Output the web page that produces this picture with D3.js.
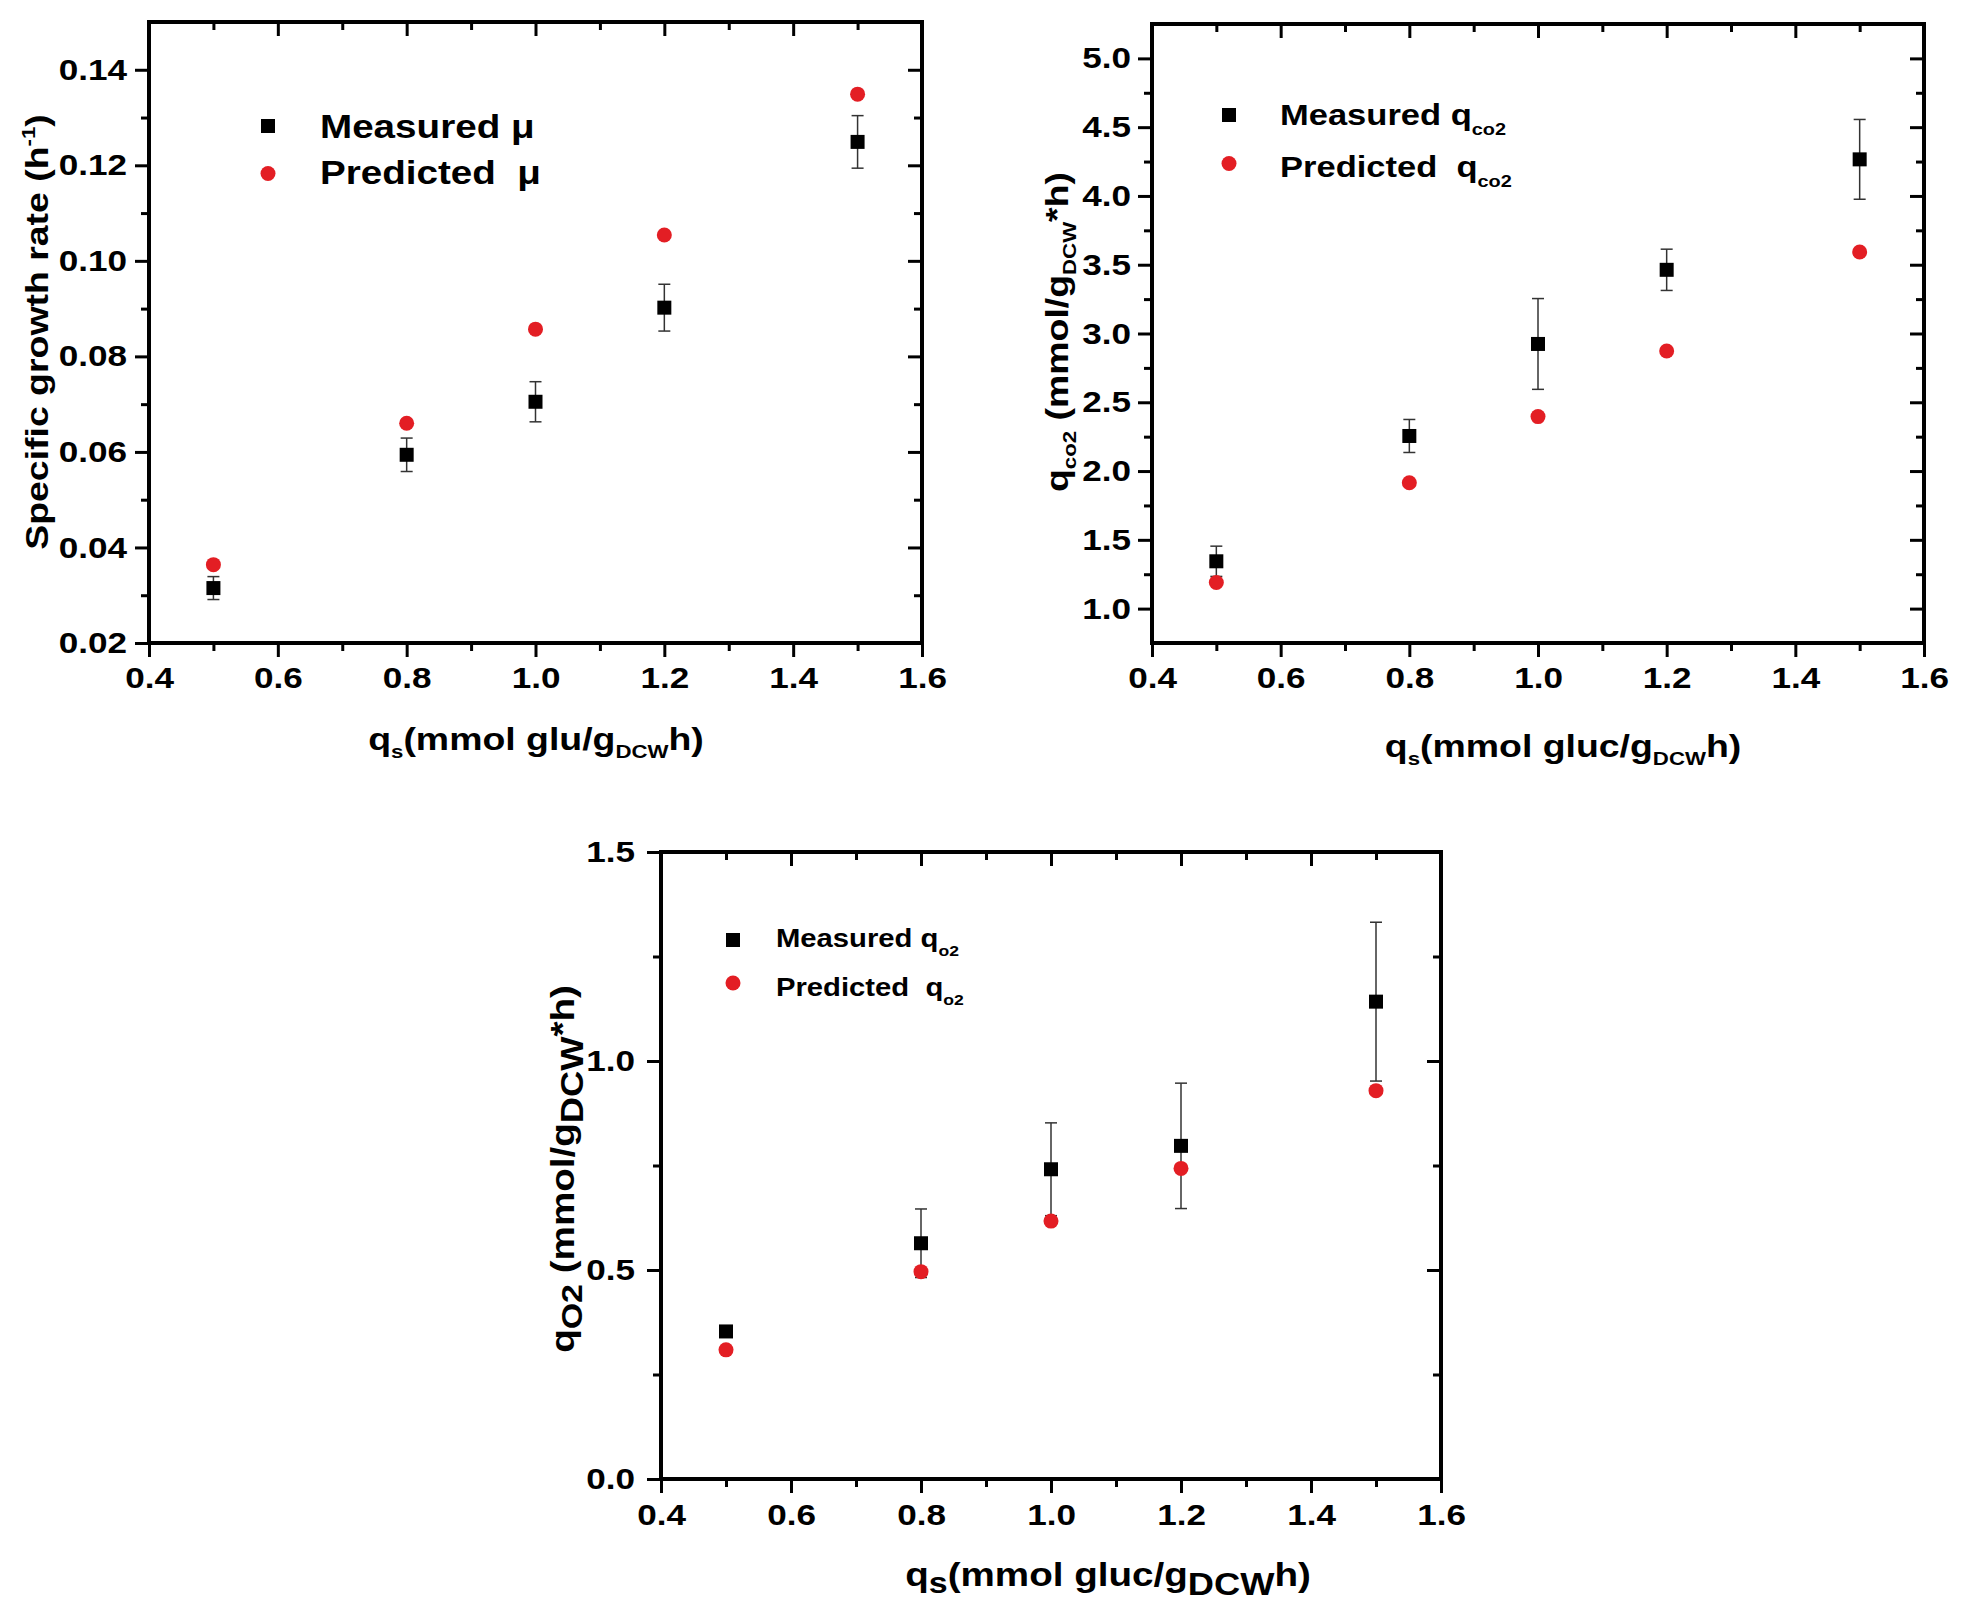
<!DOCTYPE html>
<html>
<head>
<meta charset="utf-8">
<script src="https://cdn.jsdelivr.net/npm/d3@7"></script>
<style>
  html, body { margin: 0; padding: 0; background: #fff; }
  svg { display: block; }
</style>
</head>
<body>
<svg id="chart" width="1961" height="1617"></svg>
<script>
// ---------------- data ----------------
const qs = [0.5, 0.8, 1.0, 1.2, 1.5];

const muMeasured  = [0.0315, 0.0594, 0.0705, 0.0902, 0.1249];
const muErr       = [0.0024, 0.0035, 0.0042, 0.0049, 0.0055];
const muPredicted = [0.0364, 0.0660, 0.0857, 0.1054, 0.1349];

const co2Measured  = [1.344, 2.255, 2.924, 3.463, 4.266];
const co2Err       = [0.11, 0.12, 0.33, 0.15, 0.29];
const co2Predicted = [1.19, 1.915, 2.396, 2.873, 3.593];

const o2Measured  = [0.353, 0.564, 0.741, 0.797, 1.142];
const o2Err       = [0, 0.082, 0.111, 0.15, 0.19];
const o2Predicted = [0.309, 0.496, 0.617, 0.743, 0.929];

const xMajorTicks = [0.4, 0.6, 0.8, 1.0, 1.2, 1.4, 1.6];
const xMinorTicks = [0.5, 0.7, 0.9, 1.1, 1.3, 1.5];
const muMajorTicks = [0.02, 0.04, 0.06, 0.08, 0.10, 0.12, 0.14];
const muMinorTicks = [0.03, 0.05, 0.07, 0.09, 0.11, 0.13];
const co2MajorTicks = [1.0, 1.5, 2.0, 2.5, 3.0, 3.5, 4.0, 4.5, 5.0];
const co2MinorTicks = [1.25, 1.75, 2.25, 2.75, 3.25, 3.75, 4.25, 4.75];
const o2MajorTicks = [0.0, 0.5, 1.0, 1.5];
const o2MinorTicks = [0.25, 0.75, 1.25];

// ---------------- style ----------------
const SX = 1.17;
const FONT = "'Liberation Sans', Arial, Helvetica, sans-serif";
const RED = "#e31e24";
const svg = d3.select("#chart");

function richText(parent, x, y, rot, anchor, size, parts) {
  const g = parent.append("g")
    .attr("transform", `translate(${x},${y}) rotate(${rot}) scale(${SX},1)`);
  const t = g.append("text")
    .attr("text-anchor", anchor)
    .attr("font-family", FONT)
    .attr("font-weight", "bold")
    .attr("font-size", size)
    .attr("fill", "#000");
  let prev = 0;
  parts.forEach(p => {
    const off = p.off || 0;
    t.append("tspan")
      .attr("dy", off - prev)
      .attr("font-size", p.size || size)
      .text(p.t);
    prev = off;
  });
  return t;
}

function stretchTicks(axisG) {
  axisG.selectAll(".tick text").each(function () {
    const el = d3.select(this);
    const x = +el.attr("x") || 0;
    el.attr("x", x / SX).attr("transform", `scale(${SX},1)`);
  });
}

function drawPanel(c) {
  const g = svg.append("g");
  const x = d3.scaleLinear().domain([0.4, 1.6]).range([c.x0, c.x1]);
  const y = d3.scaleLinear().domain(c.yDomain).range([c.y1, c.y0]);
  const MAJ = 14, MIN = 8;

  const style = sel => {
    sel.select(".domain").remove();
    sel.selectAll(".tick line").attr("stroke", "#000").attr("stroke-width", 3);
    sel.selectAll(".tick text")
      .attr("font-family", FONT).attr("font-weight", "bold")
      .attr("font-size", c.tickFont).attr("fill", "#000");
  };

  // bottom
  const gb = g.append("g").attr("transform", `translate(0,${c.y1})`)
    .call(d3.axisBottom(x).tickValues(xMajorTicks).tickFormat(d3.format(".1f"))
      .tickSize(MAJ).tickPadding(c.padB).tickSizeOuter(0));
  style(gb); stretchTicks(gb);
  const gbm = g.append("g").attr("transform", `translate(0,${c.y1})`)
    .call(d3.axisBottom(x).tickValues(xMinorTicks).tickFormat("").tickSize(MIN).tickSizeOuter(0));
  style(gbm);
  // top (inward)
  const gt = g.append("g").attr("transform", `translate(0,${c.y0})`)
    .call(d3.axisTop(x).tickValues(xMajorTicks).tickFormat("").tickSize(-MAJ).tickSizeOuter(0));
  style(gt);
  const gtm = g.append("g").attr("transform", `translate(0,${c.y0})`)
    .call(d3.axisTop(x).tickValues(xMinorTicks).tickFormat("").tickSize(-MIN).tickSizeOuter(0));
  style(gtm);
  // left
  const gl = g.append("g").attr("transform", `translate(${c.x0},0)`)
    .call(d3.axisLeft(y).tickValues(c.yMajor).tickFormat(d3.format(c.yFmt))
      .tickSize(MAJ).tickPadding(c.padL).tickSizeOuter(0));
  style(gl); stretchTicks(gl);
  const glm = g.append("g").attr("transform", `translate(${c.x0},0)`)
    .call(d3.axisLeft(y).tickValues(c.yMinor).tickFormat("").tickSize(MIN).tickSizeOuter(0));
  style(glm);
  // right (inward)
  const gr = g.append("g").attr("transform", `translate(${c.x1},0)`)
    .call(d3.axisRight(y).tickValues(c.yMajor).tickFormat("").tickSize(-MAJ).tickSizeOuter(0));
  style(gr);
  const grm = g.append("g").attr("transform", `translate(${c.x1},0)`)
    .call(d3.axisRight(y).tickValues(c.yMinor).tickFormat("").tickSize(-MIN).tickSizeOuter(0));
  style(grm);

  // frame
  g.append("rect")
    .attr("x", c.x0).attr("y", c.y0)
    .attr("width", c.x1 - c.x0).attr("height", c.y1 - c.y0)
    .attr("fill", "none").attr("stroke", "#000").attr("stroke-width", 4);

  // error bars
  const eb = g.append("g").attr("stroke", "#333").attr("stroke-width", 1.5).attr("fill", "none");
  qs.forEach((q, i) => {
    const e = c.err[i];
    if (!e) return;
    const cx = x(q), top = y(c.measured[i] + e), bot = y(c.measured[i] - e);
    eb.append("line").attr("x1", cx).attr("x2", cx).attr("y1", top).attr("y2", bot);
    eb.append("line").attr("x1", cx - 6).attr("x2", cx + 6).attr("y1", top).attr("y2", top);
    eb.append("line").attr("x1", cx - 6).attr("x2", cx + 6).attr("y1", bot).attr("y2", bot);
  });

  // measured squares
  const S = 14;
  g.append("g").selectAll("rect").data(qs).join("rect")
    .attr("x", d => x(d) - S / 2)
    .attr("y", (d, i) => y(c.measured[i]) - S / 2)
    .attr("width", S).attr("height", S).attr("fill", "#000");
  // predicted circles
  g.append("g").selectAll("circle").data(qs).join("circle")
    .attr("cx", d => x(d))
    .attr("cy", (d, i) => y(c.predicted[i]))
    .attr("r", 7.5).attr("fill", RED);

  // legend
  const L = c.legend;
  g.append("rect").attr("x", L.mx - S / 2).attr("y", L.my1 - S / 2)
    .attr("width", S).attr("height", S).attr("fill", "#000");
  g.append("circle").attr("cx", L.mx).attr("cy", L.my2).attr("r", 7.5).attr("fill", RED);
  richText(g, L.tx, L.b1, 0, "start", L.size, L.parts1);
  richText(g, L.tx, L.b2, 0, "start", L.size, L.parts2);

  // titles
  richText(g, c.xt.x, c.xt.y, 0, "middle", c.xt.size, c.xt.parts);
  richText(g, c.yt.x, c.yt.y, -90, "middle", c.yt.size, c.yt.parts);
}

// Panel 1: specific growth rate
drawPanel({
  x0: 149, x1: 922, y0: 22, y1: 643,
  yDomain: [0.02, 0.15], yMajor: muMajorTicks, yMinor: muMinorTicks, yFmt: ".2f",
  measured: muMeasured, err: muErr, predicted: muPredicted,
  tickFont: 30, padL: 8, padB: 10,
  legend: {
    mx: 268, my1: 126, my2: 173.5, tx: 320, b1: 138, b2: 184, size: 33,
    parts1: [{t: "Measured μ"}],
    parts2: [{t: "Predicted\u00A0\u00A0μ"}]
  },
  xt: { x: 536, y: 750, size: 32,
    parts: [{t: "q"}, {t: "s", size: 19, off: 8}, {t: "(mmol glu/g"}, {t: "DCW", size: 19, off: 8}, {t: "h)"}] },
  yt: { x: 48, y: 332, size: 32,
    parts: [{t: "Specific growth rate (h"}, {t: "-1", size: 19, off: -13}, {t: ")"}] }
});

// Panel 2: qCO2
drawPanel({
  x0: 1152, x1: 1924, y0: 24, y1: 643,
  yDomain: [0.75, 5.25], yMajor: co2MajorTicks, yMinor: co2MinorTicks, yFmt: ".1f",
  measured: co2Measured, err: co2Err, predicted: co2Predicted,
  tickFont: 30, padL: 7, padB: 10,
  legend: {
    mx: 1229, my1: 115, my2: 163.5, tx: 1280, b1: 125, b2: 177, size: 29.5,
    parts1: [{t: "Measured q"}, {t: "co2", size: 17, off: 10}],
    parts2: [{t: "Predicted\u00A0\u00A0q"}, {t: "co2", size: 17, off: 10}]
  },
  xt: { x: 1563, y: 757, size: 32,
    parts: [{t: "q"}, {t: "s", size: 19, off: 8}, {t: "(mmol gluc/g"}, {t: "DCW", size: 19, off: 8}, {t: "h)"}] },
  yt: { x: 1068, y: 332, size: 32,
    parts: [{t: "q"}, {t: "co2", size: 19, off: 8}, {t: " (mmol/g"}, {t: "DCW", size: 19, off: 8}, {t: "*h)"}] }
});

// Panel 3: qO2
drawPanel({
  x0: 661, x1: 1441, y0: 852, y1: 1479,
  yDomain: [0, 1.5], yMajor: o2MajorTicks, yMinor: o2MinorTicks, yFmt: ".1f",
  measured: o2Measured, err: o2Err, predicted: o2Predicted,
  tickFont: 30, padL: 12, padB: 11,
  legend: {
    mx: 733, my1: 940, my2: 983, tx: 776, b1: 947, b2: 996, size: 25,
    parts1: [{t: "Measured q"}, {t: "o2", size: 15, off: 9}],
    parts2: [{t: "Predicted\u00A0\u00A0q"}, {t: "o2", size: 15, off: 9}]
  },
  xt: { x: 1108, y: 1586, size: 33,
    parts: [{t: "q"}, {t: "s", size: 29, off: 7}, {t: "(mmol gluc/g"}, {t: "DCW", size: 31, off: 9}, {t: "h)"}] },
  yt: { x: 574, y: 1169, size: 33,
    parts: [{t: "q"}, {t: "O2", size: 29, off: 8}, {t: " (mmol/g"}, {t: "DCW", size: 31, off: 9}, {t: "*h)"}] }
});
</script>
</body>
</html>
